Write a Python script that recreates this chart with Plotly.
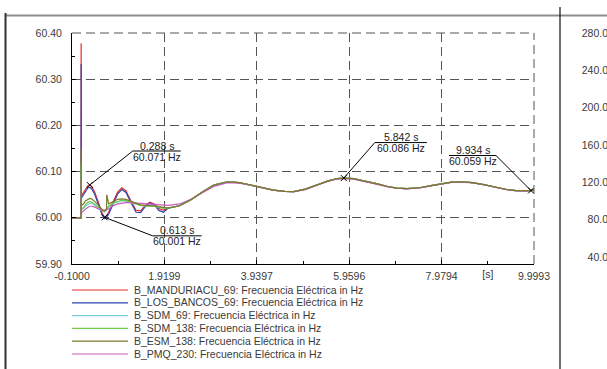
import plotly.graph_objects as go

W, H = 607, 369

# ---------------- data ----------------
series_names = ["B_MANDURIACU_69", "B_LOS_BANCOS_69", "B_SDM_69",
                "B_SDM_138", "B_ESM_138", "B_PMQ_230"]
legend_suffix = ": Frecuencia Eléctrica in Hz"
series_colors = ["#ee2a2a", "#2d47b0", "#74cde0", "#72c84a", "#7d7a2c", "#c65ec0"]

early_t = [-0.1, 0.098, 0.1, 0.103, 0.12, 0.15, 0.2, 0.25, 0.288, 0.33, 0.4, 0.5,
           0.56, 0.613, 0.64, 0.655, 0.66, 0.7, 0.8, 0.9, 0.99, 1.08, 1.18, 1.3,
           1.4, 1.5, 1.6, 1.7, 1.8, 1.9]

f_manduriacu_early = [60.000, 60.000, 60.378, 60.045, 60.050, 60.055, 60.064, 60.070, 60.071,
                      60.068, 60.055, 60.028, 60.010, 60.001, 60.002, 60.004, 60.005, 60.012,
                      60.035, 60.056, 60.065, 60.058, 60.038, 60.016, 60.015, 60.026, 60.034,
                      60.030, 60.020, 60.016]
f_los_bancos_early = [60.000, 60.000, 60.333, 60.042, 60.045, 60.050, 60.058, 60.065, 60.066,
                      60.063, 60.050, 60.024, 60.006, 59.998, 59.999, 60.001, 60.002, 60.008,
                      60.030, 60.052, 60.061, 60.055, 60.035, 60.012, 60.011, 60.024, 60.032,
                      60.028, 60.016, 60.012]
f_sdm69_early = [60.000, 60.000, 60.110, 60.020, 60.018, 60.020, 60.026, 60.030, 60.031,
                 60.031, 60.027, 60.019, 60.015, 60.013, 60.015, 60.017, 60.019, 60.024,
                 60.031, 60.035, 60.037, 60.036, 60.033, 60.029, 60.027, 60.026, 60.026,
                 60.025, 60.023, 60.021]
f_sdm138_early = [60.000, 60.000, 60.120, 60.022, 60.020, 60.022, 60.029, 60.034, 60.035,
                  60.034, 60.029, 60.020, 60.015, 60.013, 60.015, 60.018, 60.020, 60.025,
                  60.032, 60.036, 60.038, 60.037, 60.034, 60.030, 60.027, 60.026, 60.026,
                  60.025, 60.023, 60.021]
f_esm138_early = [60.000, 60.000, 60.150, 60.030, 60.028, 60.030, 60.037, 60.041, 60.042,
                  60.041, 60.035, 60.024, 60.018, 60.016, 60.018, 60.020, 60.050, 60.030,
                  60.035, 60.040, 60.041, 60.040, 60.036, 60.031, 60.028, 60.027, 60.027,
                  60.026, 60.024, 60.022]
f_pmq230_early = [60.000, 60.000, 60.080, 60.012, 60.012, 60.014, 60.019, 60.023, 60.025,
                  60.025, 60.023, 60.018, 60.016, 60.015, 60.016, 60.017, 60.018, 60.021,
                  60.026, 60.030, 60.032, 60.033, 60.033, 60.032, 60.031, 60.030, 60.030,
                  60.029, 60.028, 60.027]

late_t = [2.0, 2.25, 2.5, 2.75, 3.0, 3.3, 3.55, 3.8, 4.05, 4.3, 4.55, 4.75, 5.0, 5.25,
          5.5, 5.7, 5.842, 6.05, 6.3, 6.55, 6.8, 7.0, 7.22, 7.5, 7.75, 8.0, 8.2, 8.4,
          8.65, 8.9, 9.15, 9.4, 9.6, 9.78, 9.934, 9.9993]
f_late_common = [60.021, 60.026, 60.039, 60.056, 60.071, 60.078, 60.076, 60.0715, 60.0655,
                 60.060, 60.057, 60.0568, 60.062, 60.071, 60.080, 60.085, 60.086, 60.0847,
                 60.080, 60.074, 60.0678, 60.0644, 60.063, 60.065, 60.0695, 60.0744, 60.0771,
                 60.078, 60.0762, 60.0719, 60.0663, 60.0613, 60.0587, 60.058, 60.059, 60.061]
f_late_pmq = [60.027, 60.030, 60.040, 60.054, 60.068, 60.076, 60.075, 60.071, 60.065,
              60.060, 60.057, 60.0565, 60.061, 60.070, 60.079, 60.084, 60.085, 60.0838,
              60.079, 60.073, 60.067, 60.064, 60.0625, 60.0645, 60.069, 60.0737, 60.0764,
              60.0773, 60.0757, 60.0715, 60.066, 60.061, 60.0585, 60.0578, 60.0588, 60.0605]

series_early = [f_manduriacu_early, f_los_bancos_early, f_sdm69_early,
                f_sdm138_early, f_esm138_early, f_pmq230_early]
series_late = [f_late_common, f_late_common, f_late_common,
               f_late_common, f_late_common, f_late_pmq]

x_tick_vals = [-0.1, 1.9199, 3.9397, 5.9596, 7.9794, 9.9993]
x_tick_text = ["-0.1000", "1.9199", "3.9397", "5.9596", "7.9794", "9.9993"]
x_unit_label = "[s]"
y_tick_vals = [59.90, 60.00, 60.10, 60.20, 60.30, 60.40]
right_tick_vals = [280.0, 240.0, 200.0, 160.0, 120.0, 80.0, 40.0]

callout_t = [0.288, 0.613, 5.842, 9.934]
callout_f = [60.071, 60.001, 60.086, 60.059]

# ---------------- style / layout helpers ----------------
FONT = "Liberation Sans, Arial, sans-serif"
FS = 10.5
TXT = "#3a3a3a"
GRID = "#555555"
DASH = "9px,5px"

def px_x(p):
    return p / W

def px_y(p):
    return 1 - p / H

# callout geometry in screen pixels relative to the marked point (down = +)
callout_style = [
    dict(lead=(43, -34), ul=(43, 91)),
    dict(lead=(48, 18.5), ul=(48, 97)),
    dict(lead=(31, -35.5), ul=(31, 83)),
    dict(lead=(-35, -35), ul=(-82, -35)),
]

fig = go.Figure()

draw_order = [0, 1, 2, 3, 5, 4]
for i in draw_order:
    fig.add_trace(go.Scatter(
        x=early_t + late_t, y=series_early[i] + series_late[i],
        mode="lines", line=dict(color=series_colors[i], width=1.2),
        name=series_names[i] + legend_suffix, showlegend=False, hoverinfo="skip"))

fig.add_trace(go.Scatter(
    x=callout_t, y=callout_f, mode="markers",
    marker=dict(symbol="x-thin", size=6, line=dict(width=1, color="black"), color="black"),
    showlegend=False, hoverinfo="skip"))

# empty traces so that the overlaying label axes get drawn
fig.add_trace(go.Scatter(x=[], y=[], xaxis="x2", yaxis="y", showlegend=False, hoverinfo="skip"))
fig.add_trace(go.Scatter(x=[], y=[], xaxis="x", yaxis="y4", showlegend=False, hoverinfo="skip"))

# legend drawn as a small subplot
for i, nm in enumerate(series_names):
    fig.add_trace(go.Scatter(
        x=[0, 1], y=[i, i], xaxis="x3", yaxis="y3", mode="lines",
        line=dict(color=series_colors[i], width=1.2), showlegend=False, hoverinfo="skip"))

shapes = []
annotations = []
for (t, f, st) in zip(callout_t, callout_f, callout_style):
    lx, ly = st["lead"]
    u0, u1 = st["ul"]
    shapes.append(dict(type="line", xref="x", yref="y", xsizemode="pixel", ysizemode="pixel",
                       xanchor=t, yanchor=f, x0=0, y0=0, x1=lx, y1=-ly,
                       line=dict(color="black", width=1)))
    shapes.append(dict(type="line", xref="x", yref="y", xsizemode="pixel", ysizemode="pixel",
                       xanchor=t, yanchor=f, x0=u0, y0=-ly, x1=u1, y1=-ly,
                       line=dict(color="black", width=1)))
    cx = (u0 + u1) / 2
    annotations.append(dict(x=t, y=f, xref="x", yref="y", text=f"{t:.3f} s", showarrow=False,
                            xshift=cx, yshift=-(ly - 5.5), xanchor="center", yanchor="middle",
                            font=dict(family=FONT, size=FS, color="#222")))
    annotations.append(dict(x=t, y=f, xref="x", yref="y", text=f"{f:.3f} Hz", showarrow=False,
                            xshift=cx, yshift=-(ly + 5.5), xanchor="center", yanchor="middle",
                            font=dict(family=FONT, size=FS, color="#222")))

# dashed top / right edges of the plot box
shapes += [
    dict(type="line", xref="x domain", yref="y domain", x0=0, x1=1, y0=1, y1=1,
         line=dict(color=GRID, width=1, dash=DASH)),
    dict(type="line", xref="x domain", yref="y domain", x0=1, x1=1, y0=0, y1=1,
         line=dict(color=GRID, width=1, dash=DASH)),
]

# frame lines of the page
shapes += [
    dict(type="line", xref="paper", yref="paper", x0=px_x(5), x1=1.0, y0=px_y(15.5), y1=px_y(15.5),
         line=dict(color="#8c8c8c", width=2)),
    dict(type="line", xref="paper", yref="paper", x0=px_x(5.5), x1=px_x(5.5), y0=0, y1=px_y(13),
         line=dict(color="#333333", width=2)),
    dict(type="line", xref="paper", yref="paper", x0=px_x(560), x1=px_x(560), y0=0, y1=px_y(7),
         line=dict(color="#111111", width=1.2)),
]

minor_x = [(a + b) / 2 for a, b in zip(x_tick_vals[:-1], x_tick_vals[1:])]
x_unit_pos = minor_x[-1]

grid = dict(showgrid=True, gridcolor=GRID, griddash=DASH, gridwidth=1)
tickfont = dict(family=FONT, size=FS, color=TXT)

fig.update_layout(
    width=W, height=H, autosize=False,
    margin=dict(l=0, r=0, t=0, b=0, pad=0),
    paper_bgcolor="white", plot_bgcolor="white",
    showlegend=False,
    font=dict(family=FONT, size=FS, color=TXT),
    xaxis=dict(domain=[px_x(72), px_x(534)], range=[-0.1, 9.9993], anchor="y",
               tickmode="array", tickvals=x_tick_vals, ticktext=x_tick_text,
               showline=True, linecolor="black", linewidth=1, zeroline=False,
               ticks="inside", ticklen=4, tickcolor="black", tickfont=tickfont,
               ticklabelstandoff=2,
               minor=dict(tickmode="array", tickvals=minor_x, ticks="inside", ticklen=3,
                          tickcolor="black", showgrid=False),
               automargin=False, **grid),
    yaxis=dict(domain=[px_y(264), px_y(33)], range=[59.9, 60.4], anchor="x",
               tickmode="array", tickvals=y_tick_vals, tickformat=".2f",
               showline=True, linecolor="black", linewidth=1, zeroline=False,
               ticks="inside", ticklen=4, tickcolor="black", tickfont=tickfont,
               ticklabelstandoff=7,
               minor=dict(tick0=59.9, dtick=0.05, ticks="inside", ticklen=3,
                          tickcolor="black", showgrid=False),
               automargin=False, **grid),
    xaxis2=dict(overlaying="x", anchor="y", side="bottom", range=[-0.1, 9.9993],
                tickmode="array", tickvals=[x_unit_pos], ticktext=[x_unit_label],
                showgrid=False, showline=False, zeroline=False, ticks="",
                tickfont=tickfont, ticklabelstandoff=2, automargin=False),
    yaxis4=dict(overlaying="y", anchor="free", position=1.0, side="left",
                range=[32.5, 280], tickmode="array", tickvals=right_tick_vals,
                tickformat=".1f", showgrid=False, showline=False, zeroline=False,
                ticks="", tickfont=tickfont, ticklabelstandoff=-1, automargin=False),
    xaxis3=dict(domain=[px_x(72), px_x(128)], range=[0, 1], anchor="y3", visible=False),
    yaxis3=dict(domain=[px_y(360.4), px_y(283.6)], range=[5.5, -0.5], anchor="x3",
                side="right", tickmode="array", tickvals=list(range(len(series_names))),
                ticktext=[n + legend_suffix for n in series_names],
                showgrid=False, showline=False, zeroline=False, ticks="",
                tickfont=tickfont, ticklabelstandoff=5, automargin=False),
    shapes=shapes,
    annotations=annotations,
)

fig.write_html("out.html", config={"displayModeBar": False},
               post_script="document.body.style.margin='0px';")
